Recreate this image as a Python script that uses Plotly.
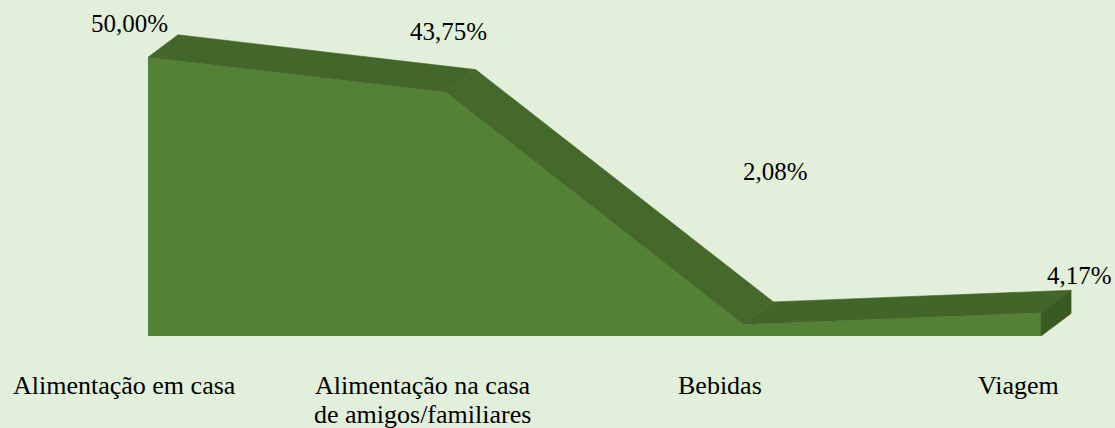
import plotly.graph_objects as go

# ---- data ----
categories = ["Alimentação em casa", "Alimentação na casa<br>de amigos/familiares", "Bebidas", "Viagem"]
values = [50.00, 43.75, 2.08, 4.17]
value_labels = ["50,00%", "43,75%", "2,08%", "4,17%"]

# ---- style / layout constants ----
BG = "#E2EFDA"
FRONT = "#548235"
TOP_COLORS = ["#43672A", "#44692B", "#42662A"]
SIDE = "#385A23"
FONT = "Liberation Serif"
DX = 0.1008   # depth offset in category units
DY = 4.04     # depth offset in value units
X_RANGE = [-0.4971, 3.2483]
Y_RANGE = [-16.505, 60.28]
LABEL_SHIFTS = [(-18.5, 33.6), (3, 61), (32, 153), (38, 37.5)]  # px offsets of data labels
CAT_XSHIFT = -23
CAT_YSHIFTS = [-49, -78]


def serif(txt):
    return "<span style='font-family:Liberation Serif, serif'>" + txt + "</span>"


xs = list(range(len(values)))
fig = go.Figure()

# front face
fig.add_trace(go.Scatter(x=xs, y=values, mode="lines", fill="tozeroy",
                         fillcolor=FRONT, line=dict(width=0, color=FRONT),
                         hoverinfo="skip", showlegend=False))

# top ribbon segments
for i in range(len(values) - 1):
    px = [xs[i], xs[i + 1], xs[i + 1] + DX, xs[i] + DX, xs[i]]
    py = [values[i], values[i + 1], values[i + 1] + DY, values[i] + DY, values[i]]
    c = TOP_COLORS[i % len(TOP_COLORS)]
    fig.add_trace(go.Scatter(x=px, y=py, mode="lines", fill="toself", fillcolor=c,
                             line=dict(width=0.6, color=c), hoverinfo="skip", showlegend=False))

# right side face
last = len(values) - 1
fig.add_trace(go.Scatter(x=[xs[last], xs[last], xs[last] + DX, xs[last] + DX, xs[last]],
                         y=[0, values[last], values[last] + DY, DY, 0],
                         mode="lines", fill="toself", fillcolor=SIDE,
                         line=dict(width=0.6, color=SIDE), hoverinfo="skip", showlegend=False))

annotations = []
# data labels
for i, (v, t) in enumerate(zip(values, value_labels)):
    sx, sy = LABEL_SHIFTS[i]
    annotations.append(dict(x=xs[i], y=v, xref="x", yref="y", text=serif(t), showarrow=False,
                            xanchor="center", yanchor="middle", xshift=sx, yshift=sy,
                            font=dict(family=FONT, size=25, color="#000000")))
# category labels
for i, cat in enumerate(categories):
    for j, line in enumerate(cat.split("<br>")):
        annotations.append(dict(x=xs[i], y=0, xref="x", yref="y", text=serif(line), showarrow=False,
                                xanchor="center", yanchor="middle", xshift=CAT_XSHIFT,
                                yshift=CAT_YSHIFTS[j],
                                font=dict(family=FONT, size=26, color="#000000")))

fig.update_layout(
    width=1115, height=428,
    margin=dict(l=0, r=0, t=0, b=0),
    paper_bgcolor=BG, plot_bgcolor=BG,
    xaxis=dict(range=X_RANGE, visible=False, fixedrange=True),
    yaxis=dict(range=Y_RANGE, visible=False, fixedrange=True),
    annotations=annotations,
    showlegend=False,
)

fig.write_html(
    "out.html",
    config={"displayModeBar": False},
    post_script="document.body.style.margin='0';document.body.style.background='%s';" % BG,
)
